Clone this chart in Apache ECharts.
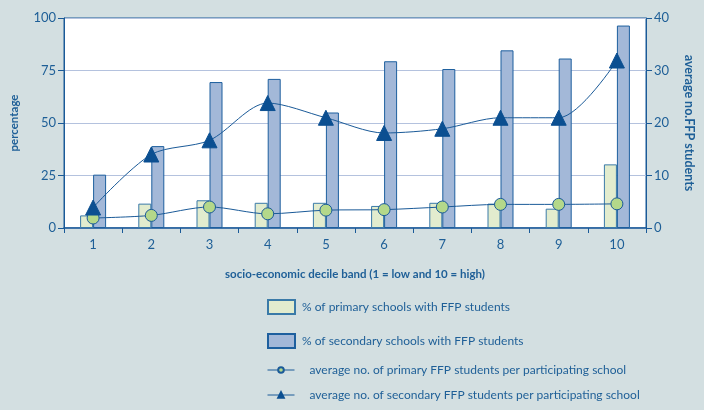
<!DOCTYPE html>
<html><head><meta charset="utf-8">
<script src="https://cdn.jsdelivr.net/npm/echarts@6/dist/echarts.min.js"></script>
<style>html,body{margin:0;padding:0;background:#d3dfe1;}#c{width:704px;height:410px;}</style>
</head><body><div id="c"></div>
<script>
var categories = ['1','2','3','4','5','6','7','8','9','10'];
var primaryPct = [6, 11.6, 13.2, 12, 12, 10.5, 12, 11.6, 9.2, 30.3];
var secondaryPct = [25.4, 39, 69.5, 71, 55, 79.4, 75.7, 84.6, 80.7, 96.4];
var primaryAvg = [1.9, 2.4, 4.0, 2.7, 3.4, 3.5, 4.0, 4.5, 4.5, 4.6];
var secondaryAvg = [3.9, 14, 16.7, 23.8, 21, 18.1, 18.9, 21, 21, 31.9];
var leftTicks = [0, 25, 50, 75, 100];
var rightTicks = [0, 10, 20, 30, 40];
var seriesNames = ['% of primary schools with FFP students', '% of secondary schools with FFP students',
  'average no. of primary FFP students per participating school',
  'average no. of secondary FFP students per participating school'];

var txt = '#1e5f97';
var dark = '#1a5a98';
var font = 'Lato';
var chart = echarts.init(document.getElementById('c'));
chart.setOption({
  backgroundColor: '#d3dfe1',
  textStyle: {fontFamily: font, color: txt},
  animation: false,
  grid: {left: 63, right: 56, top: 18, bottom: 182, show: true, backgroundColor: '#ffffff', borderColor: dark, borderWidth: 1},
  legend: [{
    orient: 'vertical', left: 267, top: 299, padding: 0, itemWidth: 27, itemHeight: 14, itemGap: 18, height: 60,
    icon: 'rect',
    textStyle: {fontFamily: font, fontSize: 12, color: txt, padding: [0, 0, 0, 2]},
    data: [seriesNames[0], seriesNames[1]]
  }, {
    orient: 'vertical', left: 267, top: 364, padding: 0, itemWidth: 27, itemHeight: 7, itemGap: 13, height: 46,
    textStyle: {fontFamily: font, fontSize: 12, color: txt, padding: [0, 0, 0, 10]},
    lineStyle: {width: 1},
    data: [seriesNames[2], seriesNames[3]]
  }],
  xAxis: {
    type: 'category', data: categories,
    name: 'socio-economic decile band (1 = low and 10 = high)', nameLocation: 'middle', nameGap: 40,
    nameTextStyle: {fontWeight: 'bold', fontSize: 11.5, color: txt},
    axisLine: {lineStyle: {color: dark, width: 1.5}},
    axisTick: {show: true, alignWithLabel: false, length: 5, lineStyle: {color: dark}},
    axisLabel: {color: txt, fontSize: 13, margin: 10}
  },
  yAxis: [{
    type: 'value', min: 0, max: 100, interval: 25,
    name: 'percentage', nameLocation: 'middle', nameGap: 44, nameRotate: 90,
    nameTextStyle: {fontWeight: 'bold', fontSize: 11.5, color: txt},
    axisLine: {show: true, lineStyle: {color: dark}},
    axisTick: {show: true, length: 6, lineStyle: {color: dark}},
    axisLabel: {color: txt, fontSize: 13, margin: 8, formatter: function(v){return leftTicks.indexOf(v)>=0? String(v):'';}},
    splitLine: {show: true, lineStyle: {color: '#b4c2de', width: 1}}
  }, {
    type: 'value', min: 0, max: 40, interval: 10,
    name: 'average no.FFP students', nameLocation: 'middle', nameGap: 37, nameRotate: -90,
    nameTextStyle: {fontWeight: 'bold', fontSize: 12.5, color: txt},
    axisLine: {show: true, lineStyle: {color: dark}},
    axisTick: {show: true, length: 6, lineStyle: {color: dark}},
    axisLabel: {color: txt, fontSize: 13, margin: 8, formatter: function(v){return rightTicks.indexOf(v)>=0? String(v):'';}},
    splitLine: {show: false}
  }],
  series: [{
    name: seriesNames[0], type: 'bar', data: primaryPct,
    barWidth: 13, barGap: '0%',
    itemStyle: {color: '#e2ecce', borderColor: '#3a7aa8', borderWidth: 1}
  }, {
    name: seriesNames[1], type: 'bar', data: secondaryPct,
    barWidth: 13, barGap: '0%',
    itemStyle: {color: '#a3b8d8', borderColor: '#1d5f9e', borderWidth: 1}
  }, {
    name: seriesNames[2], type: 'line', yAxisIndex: 1,
    data: primaryAvg, smooth: 0.3, symbol: 'circle', symbolSize: 12,
    lineStyle: {color: dark, width: 1},
    itemStyle: {color: '#b4d88a', borderColor: dark, borderWidth: 1}
  }, {
    name: seriesNames[3], type: 'line', yAxisIndex: 1,
    data: secondaryAvg, smooth: 0.3, symbol: 'triangle', symbolSize: 15,
    lineStyle: {color: dark, width: 1},
    itemStyle: {color: '#0b4f91', borderColor: '#0b4f91', borderWidth: 1}
  }]
});
</script></body></html>
